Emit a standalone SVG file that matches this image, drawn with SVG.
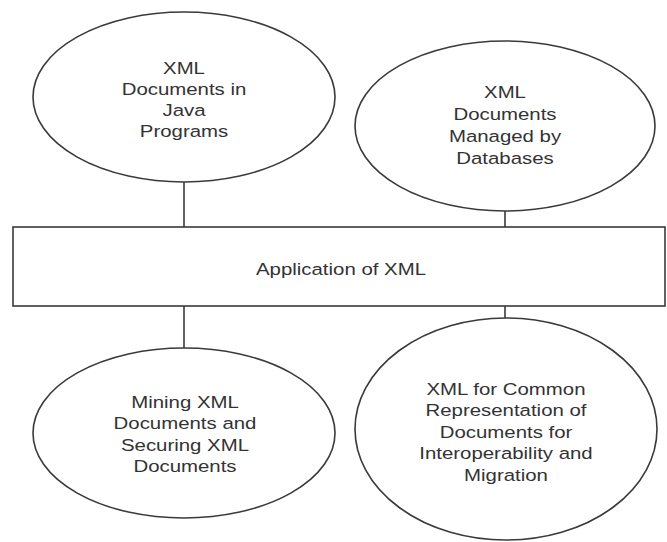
<svg xmlns="http://www.w3.org/2000/svg" width="667" height="542" viewBox="0 0 667 542">
  <style>
    .shape { fill: #ffffff; stroke: #3a3a3a; stroke-width: 1.6; }
    .conn { fill: none; stroke: #3a3a3a; stroke-width: 1.6; }
    .lbl { font-family: "Liberation Sans", Arial, Helvetica, sans-serif; font-size: 17px; fill: #333333; text-anchor: middle; }
  </style>
  <rect width="667" height="542" fill="#ffffff"/>
  <g id="connectors">
    <line class="conn" x1="184" y1="182" x2="184" y2="227"/>
    <line class="conn" x1="505" y1="211" x2="505" y2="227"/>
    <line class="conn" x1="184" y1="306" x2="184" y2="348"/>
    <line class="conn" x1="505" y1="306" x2="505" y2="318"/>
  </g>
  <g id="node-java">
    <ellipse class="shape" cx="184" cy="97" rx="151" ry="85"/>
    <g transform="translate(184 0) scale(1.2 1)">
      <text class="lbl" x="0" y="74">XML</text>
      <text class="lbl" x="0" y="95">Documents in</text>
      <text class="lbl" x="0" y="116">Java</text>
      <text class="lbl" x="0" y="137">Programs</text>
    </g>
  </g>
  <g id="node-databases">
    <ellipse class="shape" cx="505" cy="126" rx="150" ry="85"/>
    <g transform="translate(505 0) scale(1.2 1)">
      <text class="lbl" x="0" y="98">XML</text>
      <text class="lbl" x="0" y="120">Documents</text>
      <text class="lbl" x="0" y="142">Managed by</text>
      <text class="lbl" x="0" y="164">Databases</text>
    </g>
  </g>
  <g id="node-application">
    <rect class="shape" x="13" y="227" width="652" height="79"/>
    <g transform="translate(341 0) scale(1.2 1)">
      <text class="lbl" x="0" y="275">Application of XML</text>
    </g>
  </g>
  <g id="node-mining">
    <ellipse class="shape" cx="184" cy="433" rx="151" ry="85"/>
    <g transform="translate(185 0) scale(1.2 1)">
      <text class="lbl" x="0" y="408">Mining XML</text>
      <text class="lbl" x="0" y="429.5">Documents and</text>
      <text class="lbl" x="0" y="451">Securing XML</text>
      <text class="lbl" x="0" y="472.5">Documents</text>
    </g>
  </g>
  <g id="node-interop">
    <ellipse class="shape" cx="506" cy="429" rx="151" ry="111"/>
    <g transform="translate(506 0) scale(1.2 1)">
      <text class="lbl" x="0" y="395">XML for Common</text>
      <text class="lbl" x="0" y="416.5">Representation of</text>
      <text class="lbl" x="0" y="438">Documents for</text>
      <text class="lbl" x="0" y="459.5">Interoperability and</text>
      <text class="lbl" x="0" y="481">Migration</text>
    </g>
  </g>
</svg>
